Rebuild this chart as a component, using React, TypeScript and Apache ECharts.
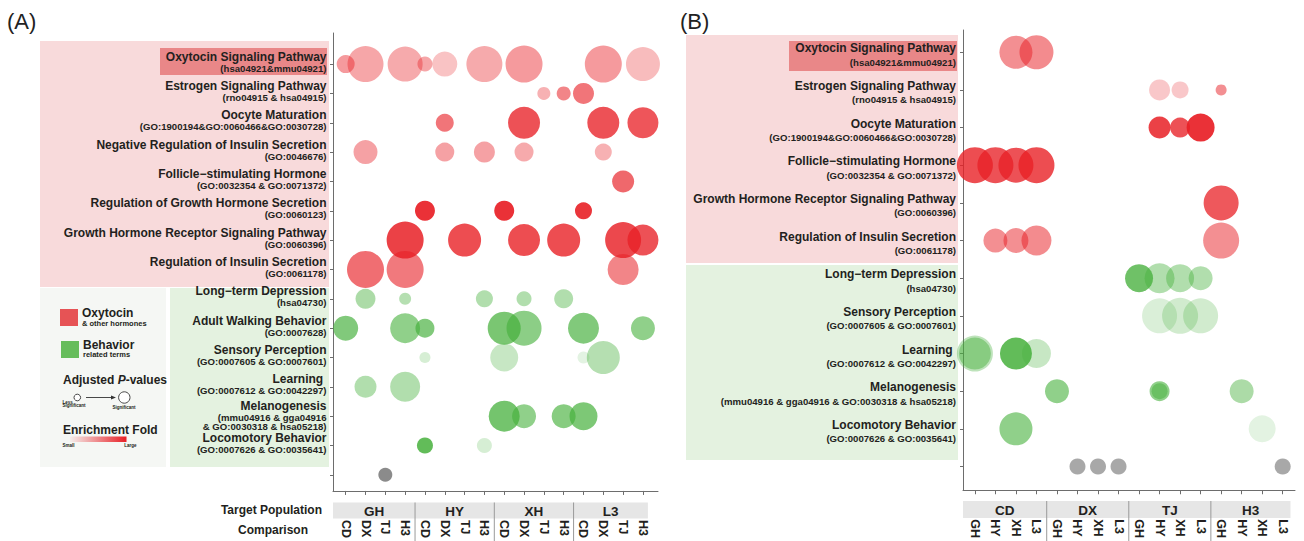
import React, { useEffect, useRef } from 'react';
import * as echarts from 'echarts';

const FONT = '"Liberation Sans", Arial, Helvetica, sans-serif';
const TEXT = '#231f20';

// ---------- Panel A ----------
const leftGroups = ['GH', 'HY', 'XH', 'L3'];
const leftComparisons = ['CD', 'DX', 'TJ', 'H3', 'CD', 'DX', 'TJ', 'H3', 'CD', 'DX', 'TJ', 'H3', 'CD', 'DX', 'TJ', 'H3'];
const leftTermNames = [
  'Oxytocin Signaling Pathway',
  'Estrogen Signaling Pathway',
  'Oocyte Maturation',
  'Negative Regulation of Insulin Secretion',
  'Follicle\u2212stimulating Hormone',
  'Regulation of Growth Hormone Secretion',
  'Growth Hormone Receptor Signaling Pathway',
  'Regulation of Insulin Secretion',
  'Long\u2212term Depression',
  'Adult Walking Behavior',
  'Sensory Perception',
  'Learning ',
  'Melanogenesis',
  'Locomotory Behavior',
];
const leftTermCodes = [
  '(hsa04921&mmu04921)',
  '(rno04915 & hsa04915)',
  '(GO:1900194&GO:0060466&GO:0030728)',
  '(GO:0046676)',
  '(GO:0032354 & GO:0071372)',
  '(GO:0060123)',
  '(GO:0060396)',
  '(GO:0061178)',
  '(hsa04730)',
  '(GO:0007628)',
  '(GO:0007605 & GO:0007601)',
  '(GO:0007612 & GO:0042297)',
  '(mmu04916 & gga04916\n& GO:0030318 & hsa05218)',
  '(GO:0007626 & GO:0035641)',
];
const leftRowKinds = ['red', 'red', 'red', 'red', 'red', 'red', 'red', 'red', 'green', 'green', 'green', 'green', 'green', 'green', 'none'];
// [comparison index, term index, bubble size (P-value), enrichment fold (0-1)]
const leftBubbles = [
  [0, 0, 18, 0.45], [1, 0, 36, 0.4], [3, 0, 35, 0.38], [4, 0, 15, 0.4], [5, 0, 25, 0.27], [7, 0, 36, 0.38], [9, 0, 37, 0.45], [13, 0, 37, 0.45], [15, 0, 34, 0.3],
  [10, 1, 13, 0.35], [11, 1, 14, 0.55], [12, 1, 21, 0.62],
  [5, 2, 18, 0.62], [9, 2, 32, 0.78], [13, 2, 32, 0.78], [15, 2, 31, 0.76],
  [1, 3, 24, 0.42], [5, 3, 19, 0.42], [7, 3, 21, 0.42], [9, 3, 19, 0.38], [13, 3, 17, 0.35],
  [14, 4, 22, 0.68],
  [4, 5, 20, 0.92], [8, 5, 20, 0.92], [12, 5, 17, 0.9],
  [3, 6, 37, 0.85], [6, 6, 33, 0.8], [9, 6, 32, 0.8], [11, 6, 33, 0.8], [14, 6, 36, 0.82], [15, 6, 31, 0.78],
  [1, 7, 37, 0.65], [3, 7, 37, 0.6], [14, 7, 31, 0.55],
  [1, 8, 20, 0.45], [3, 8, 12, 0.4], [7, 8, 17, 0.42], [9, 8, 15, 0.42], [11, 8, 19, 0.42],
  [0, 9, 25, 0.68], [3, 9, 30, 0.6], [4, 9, 19, 0.68], [8, 9, 33, 0.72], [9, 9, 35, 0.62], [12, 9, 31, 0.68], [15, 9, 24, 0.6],
  [4, 10, 11, 0.22], [8, 10, 28, 0.3], [12, 10, 12, 0.15], [13, 10, 33, 0.4],
  [1, 11, 22, 0.42], [3, 11, 30, 0.42],
  [8, 12, 31, 0.75], [9, 12, 24, 0.6], [11, 12, 24, 0.65], [12, 12, 28, 0.7],
  [4, 13, 16, 0.85], [7, 13, 15, 0.22],
  [2, 14, 14, 0.8],
];

// ---------- Panel B ----------
const rightGroups = ['CD', 'DX', 'TJ', 'H3'];
const rightComparisons = ['GH', 'HY', 'XH', 'L3', 'GH', 'HY', 'XH', 'L3', 'GH', 'HY', 'XH', 'L3', 'GH', 'HY', 'XH', 'L3'];
const rightTermNames = [
  'Oxytocin Signaling Pathway',
  'Estrogen Signaling Pathway',
  'Oocyte Maturation',
  'Follicle\u2212stimulating Hormone',
  'Growth Hormone Receptor Signaling Pathway',
  'Regulation of Insulin Secretion',
  'Long\u2212term Depression',
  'Sensory Perception',
  'Learning ',
  'Melanogenesis',
  'Locomotory Behavior',
];
const rightTermCodes = [
  '(hsa04921&mmu04921)',
  '(rno04915 & hsa04915)',
  '(GO:1900194&GO:0060466&GO:0030728)',
  '(GO:0032354 & GO:0071372)',
  '(GO:0060396)',
  '(GO:0061178)',
  '(hsa04730)',
  '(GO:0007605 & GO:0007601)',
  '(GO:0007612 & GO:0042297)',
  '(mmu04916 & gga04916 & GO:0030318 & hsa05218)',
  '(GO:0007626 & GO:0035641)',
];
const rightRowKinds = ['red', 'red', 'red', 'red', 'red', 'red', 'green', 'green', 'green', 'green', 'green', 'none'];
const rightBubbles = [
  [2, 0, 33, 0.5], [3, 0, 34, 0.52],
  [9, 1, 21, 0.25], [10, 1, 17, 0.25], [12, 1, 11, 0.5],
  [9, 2, 22, 0.85], [10, 2, 20, 0.78], [11, 2, 28, 0.92],
  [0, 3, 36, 0.8], [1, 3, 36, 0.78], [2, 3, 35, 0.78], [3, 3, 36, 0.8],
  [12, 4, 35, 0.75],
  [1, 5, 24, 0.5], [2, 5, 25, 0.5], [3, 5, 30, 0.52], [12, 5, 36, 0.5],
  [8, 6, 28, 0.78], [9, 6, 30, 0.42], [10, 6, 28, 0.42], [11, 6, 24, 0.42],
  [9, 7, 35, 0.2], [10, 7, 36, 0.25], [11, 7, 35, 0.25],
  [0, 8, 36, 0.35], [0, 8, 32, 0.45], [2, 8, 32, 0.85], [3, 8, 29, 0.3],
  [4, 9, 24, 0.6], [9, 9, 20, 0.6], [9, 9, 16, 0.5], [13, 9, 24, 0.45],
  [2, 10, 33, 0.6], [14, 10, 27, 0.15],
  [5, 11, 16, 0.6], [6, 11, 16, 0.6], [7, 11, 16, 0.6], [15, 11, 16, 0.6],
];

const BASE: Record<string, string> = { red: '232,32,38', green: '70,176,60', none: '110,110,110' };

const idx = (n: number) => Array.from({ length: n }, (_, i) => i);

function toItems(bubbles: number[][], kinds: string[]) {
  return bubbles.map(([c, r, s, f]) => ({
    value: [c, r],
    symbolSize: s,
    itemStyle: { color: `rgba(${BASE[kinds[r]]},${f})` },
  }));
}

const labelRich = (lhName: number, lhCode: number) => ({
  n: { fontFamily: FONT, fontSize: 12, fontWeight: 'bold', color: TEXT, lineHeight: lhName, align: 'right' },
  c: { fontFamily: FONT, fontSize: 9.6, fontWeight: 'bold', color: TEXT, lineHeight: lhCode, align: 'right' },
  m: { fontFamily: FONT, fontSize: 9.6, fontWeight: 'bold', color: TEXT, lineHeight: 9.7, align: 'right' },
  s: { fontSize: 4, lineHeight: 4, align: 'right' },
  t: { fontSize: 6, lineHeight: 6, align: 'right' },
});

const axisGray = '#6d6d6d';

function xAxisFor(grid: number, min: number, max: number, labels: string[]) {
  return {
    type: 'value', gridIndex: grid, min, max,
    splitLine: { show: false },
    axisLine: { show: true, onZero: false, lineStyle: { color: axisGray, width: 1 } },
    axisTick: { show: true, length: 4, customValues: idx(labels.length), lineStyle: { color: axisGray } },
    axisLabel: {
      customValues: idx(labels.length),
      formatter: (v: number) => labels[Math.round(v)] ?? '',
      rotate: -90, margin: 29,
      fontFamily: FONT, fontSize: 12.5, fontWeight: 'bold', color: TEXT,
    },
  };
}

export default function App() {
  const ref = useRef<HTMLDivElement>(null);
  useEffect(() => {
    if (!ref.current) return;
    const chart = echarts.init(ref.current, null, { renderer: 'svg' });
    const option: any = {
      animation: false,
      grid: [
        { left: 333, top: 33, width: 325, height: 459 },
        { left: 963, top: 30, width: 332, height: 462 },
      ],
      xAxis: [
        xAxisFor(0, -0.64, 15.76, leftComparisons),
        xAxisFor(1, -0.58, 15.6, rightComparisons),
      ],
      yAxis: [
        {
          type: 'value', gridIndex: 0, inverse: true, min: -1.06, max: 14.55,
          splitLine: { show: false },
          axisLine: { show: true, onZero: false, lineStyle: { color: axisGray } },
          axisTick: { show: true, length: 3, customValues: idx(leftRowKinds.length), lineStyle: { color: axisGray } },
          axisLabel: {
            customValues: idx(leftTermNames.length),
            margin: 6.5,
            formatter: (v: number) => {
              const i = Math.round(v);
              const lines = leftTermCodes[i].split('\n');
              if (lines.length > 1) return `{n|${leftTermNames[i]}}\n` + lines.map((l) => `{m|${l}}`).join('\n');
              return `{n|${leftTermNames[i]}}\n{c|${lines[0]}}\n{s| }`;
            },
            rich: labelRich(12, 11),
          },
        },
        {
          type: 'value', gridIndex: 1, inverse: true, min: -0.59, max: 11.63,
          splitLine: { show: false },
          axisLine: { show: true, onZero: false, lineStyle: { color: axisGray } },
          axisTick: { show: true, length: 3, customValues: idx(rightRowKinds.length), lineStyle: { color: axisGray } },
          axisLabel: {
            customValues: idx(rightTermNames.length),
            margin: 7,
            formatter: (v: number) => {
              const i = Math.round(v);
              return `{t| }\n{n|${rightTermNames[i]}}\n{c|${rightTermCodes[i]}}`;
            },
            rich: labelRich(14, 14),
          },
        },
      ],
      series: [
        {
          type: 'scatter', xAxisIndex: 0, yAxisIndex: 0, symbol: 'circle', silent: true,
          itemStyle: { opacity: 1, borderWidth: 0 }, emphasis: { disabled: true },
          data: toItems(leftBubbles, leftRowKinds),
        },
        {
          type: 'scatter', xAxisIndex: 1, yAxisIndex: 1, symbol: 'circle', silent: true,
          itemStyle: { opacity: 1, borderWidth: 0 }, emphasis: { disabled: true },
          data: toItems(rightBubbles, rightRowKinds),
        },
      ],
    };
    chart.setOption(option);

    const gx = (a: number, v: number) => chart.convertToPixel({ xAxisIndex: a } as any, v) as unknown as number;

    const groupBand = (a: number, groups: string[], edges: number[], top: number, bottom: number) => {
      const px = edges.map((e) => gx(a, e));
      const els: any[] = [
        { type: 'rect', z: 1, shape: { x: px[0], y: top, width: px[px.length - 1] - px[0], height: bottom - top }, style: { fill: '#e6e6e6' } },
      ];
      for (let i = 1; i < px.length - 1; i++) {
        els.push({ type: 'line', z: 2, shape: { x1: px[i], y1: top, x2: px[i], y2: 541 }, style: { stroke: '#9a9a9a', lineWidth: 1 } });
      }
      groups.forEach((g, i) => {
        els.push({
          type: 'text', z: 3,
          style: { text: g, x: (px[i] + px[i + 1]) / 2, y: (top + bottom) / 2 + 0.5, textAlign: 'center', textVerticalAlign: 'middle', fontFamily: FONT, fontSize: 13.5, fontWeight: 'bold', fill: TEXT },
        });
      });
      return els;
    };

    const txt = (text: string, x: number, y: number, size: number, extra: any = {}) => ({
      type: 'text', z: 5,
      style: { text, x, y, fontFamily: FONT, fontSize: size, fontWeight: 'bold', fill: TEXT, textVerticalAlign: 'middle', ...extra },
    });

    const elements: any[] = [
      // backgrounds panel A
      { type: 'rect', z: -10, shape: { x: 40, y: 41, width: 289, height: 246 }, style: { fill: '#f8dadb' } },
      { type: 'rect', z: -10, shape: { x: 40, y: 288, width: 126, height: 179 }, style: { fill: '#f5f7f4' } },
      { type: 'rect', z: -10, shape: { x: 170, y: 288, width: 159, height: 179 }, style: { fill: '#e4f2e0' } },
      { type: 'rect', z: -9, shape: { x: 160, y: 48, width: 167, height: 27 }, style: { fill: '#e98788' } },
      // backgrounds panel B
      { type: 'rect', z: -10, shape: { x: 686, y: 35, width: 272, height: 228 }, style: { fill: '#f8dadb' } },
      { type: 'rect', z: -10, shape: { x: 686, y: 265, width: 272, height: 195 }, style: { fill: '#e4f2e0' } },
      { type: 'rect', z: -9, shape: { x: 789, y: 41, width: 168, height: 30 }, style: { fill: '#e98788' } },
      // panel letters
      { type: 'text', z: 5, style: { text: '(A)', x: 7, y: 21, fontFamily: FONT, fontSize: 22, fill: '#222', textVerticalAlign: 'middle' } },
      { type: 'text', z: 5, style: { text: '(B)', x: 680, y: 21, fontFamily: FONT, fontSize: 22, fill: '#222', textVerticalAlign: 'middle' } },
      // bottom titles
      txt('Target Population', 322, 510, 12, { textAlign: 'right' }),
      txt('Comparison', 308, 530, 12, { textAlign: 'right' }),
      // legend
      { type: 'rect', z: 5, shape: { x: 60, y: 309, width: 18, height: 17 }, style: { fill: '#e65355' } },
      txt('Oxytocin', 82, 313, 12),
      txt('& other hormones', 82, 323.5, 7.5),
      { type: 'rect', z: 5, shape: { x: 61, y: 341, width: 18, height: 17 }, style: { fill: '#66bd5b' } },
      txt('Behavior', 83, 344.5, 12),
      txt('related terms', 83, 354.5, 7.5),
      {
        type: 'text', z: 5,
        style: {
          text: '{b|Adjusted }{i|P}{b|-values}', x: 63, y: 380, textVerticalAlign: 'middle',
          rich: {
            b: { fontFamily: FONT, fontSize: 12, fontWeight: 'bold', fill: TEXT },
            i: { fontFamily: FONT, fontSize: 12, fontWeight: 'bold', fontStyle: 'italic', fill: TEXT },
          },
        },
      },
      { type: 'circle', z: 5, shape: { cx: 77.3, cy: 397.5, r: 3.3 }, style: { fill: '#fff', stroke: '#333', lineWidth: 0.9 } },
      { type: 'line', z: 5, shape: { x1: 86, y1: 397.5, x2: 112, y2: 397.5 }, style: { stroke: '#333', lineWidth: 0.9 } },
      { type: 'polygon', z: 5, shape: { points: [[111, 395.5], [116, 397.5], [111, 399.5]] }, style: { fill: '#333' } },
      { type: 'circle', z: 5, shape: { cx: 124.3, cy: 397.5, r: 5.7 }, style: { fill: '#fff', stroke: '#333', lineWidth: 0.9 } },
      txt('Less', 62.5, 402, 4.5),
      txt('Significant', 62.5, 405.5, 4.5),
      txt('Significant', 112.5, 407.5, 4.5),
      txt('Enrichment Fold', 63, 429.5, 12),
      {
        type: 'rect', z: 5, shape: { x: 70, y: 436.5, width: 56.5, height: 5.5 },
        style: {
          fill: new echarts.graphic.LinearGradient(0, 0, 1, 0, [
            { offset: 0, color: 'rgba(232,32,38,0.04)' },
            { offset: 1, color: 'rgba(232,32,38,1)' },
          ]),
        },
      },
      txt('Small', 62.5, 445.5, 4.5),
      txt('Large', 136.5, 445.5, 4.5, { textAlign: 'right' }),
      ...groupBand(0, leftGroups, [-0.64, 3.5, 7.5, 11.5, 15.25], 502.5, 518.5),
      ...groupBand(1, rightGroups, [-0.58, 3.5, 7.5, 11.5, 15.38], 501, 518),
    ];
    chart.setOption({ graphic: { elements } });

    return () => chart.dispose();
  }, []);
  return <div ref={ref} style={{ position: 'fixed', left: 0, top: 0, width: 1304, height: 541, background: '#fff' }} />;
}
